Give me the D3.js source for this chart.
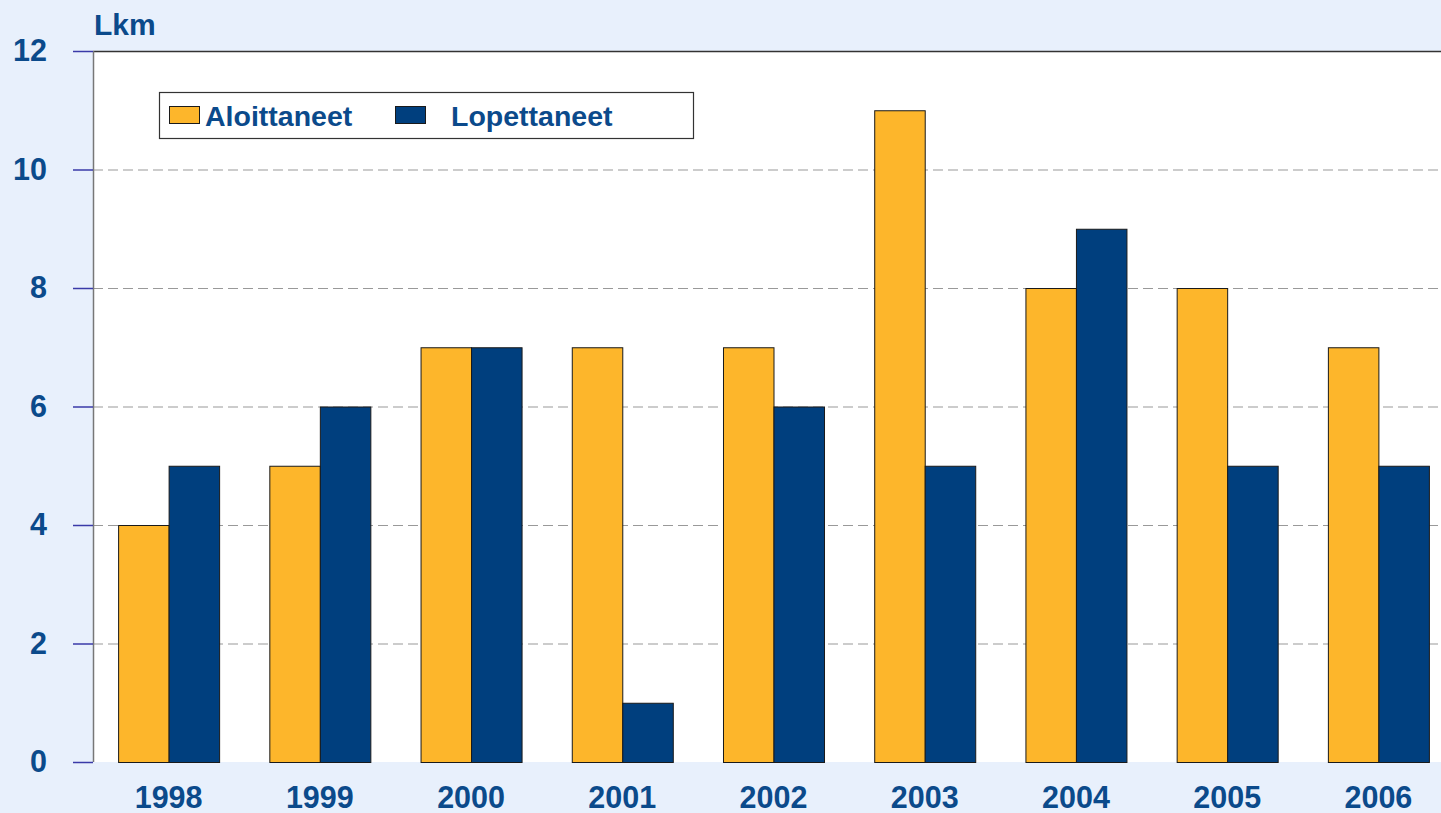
<!DOCTYPE html>
<html>
<head>
<meta charset="utf-8">
<script src="https://cdn.jsdelivr.net/npm/d3@7"></script>
<style>
  html, body { margin: 0; padding: 0; background: #e8f0fc; }
  svg { display: block; font-family: "Liberation Sans", Arial, sans-serif; font-weight: bold; }
</style>
</head>
<body>
<svg id="chart" width="1441" height="813"></svg>
<script>
// data
var years = ["1998", "1999", "2000", "2001", "2002", "2003", "2004", "2005", "2006"];
var aloittaneet = [4, 5, 7, 7, 7, 11, 8, 8, 7];
var lopettaneet = [5, 6, 7, 1, 6, 5, 9, 5, 5];
var seriesNames = ["Aloittaneet", "Lopettaneet"];
var yTicks = [0, 2, 4, 6, 8, 10, 12];

var colors = ["#fdb62b", "#003f7e"];
var textColor = "#0b4a8b";

var svg = d3.select("#chart");
var plotL = 93, plotT = 51, plotB = 762, plotR = 1454;

var x = d3.scaleBand().domain(years).range([plotL, plotR]).paddingInner(0.332).paddingOuter(0.166);
var xs = d3.scaleBand().domain([0, 1]).range([0, x.bandwidth()]);
var y = d3.scaleLinear().domain([0, 12]).range([plotB, plotT]);

// plot area
svg.append("rect")
    .attr("x", plotL).attr("y", plotT)
    .attr("width", plotR - plotL).attr("height", plotB - plotT)
    .attr("fill", "#fff");

// grid
svg.append("g").selectAll("line")
    .data(yTicks.filter(function(d) { return d > 0 && d < 12; }))
    .enter().append("line")
    .attr("x1", plotL).attr("x2", plotR)
    .attr("y1", function(d) { return y(d) + 0.5; })
    .attr("y2", function(d) { return y(d) + 0.5; })
    .attr("stroke", "#999").attr("stroke-dasharray", "10,5");

// top border
svg.append("line")
    .attr("x1", plotL).attr("x2", plotR)
    .attr("y1", y(12) + 0.5).attr("y2", y(12) + 0.5)
    .attr("stroke", "#333").attr("stroke-width", 1.5);

// bars
var table = years.map(function(yr, i) { return { year: yr, values: [aloittaneet[i], lopettaneet[i]] }; });
var groups = svg.append("g").selectAll("g")
    .data(table).enter().append("g")
    .attr("transform", function(d) { return "translate(" + x(d.year) + ",0)"; });
groups.selectAll("rect")
    .data(function(d) { return d.values; })
    .enter().append("rect")
    .attr("x", function(d, i) { return xs(i) + 0.5; })
    .attr("y", function(d) { return y(d) + 0.5; })
    .attr("width", xs.bandwidth())
    .attr("height", function(d) { return plotB - y(d); })
    .attr("fill", function(d, i) { return colors[i]; })
    .attr("stroke", "#1a1a1a").attr("stroke-width", 1);

// left axis line
svg.append("line")
    .attr("x1", plotL + 0.5).attr("x2", plotL + 0.5)
    .attr("y1", plotT).attr("y2", plotB)
    .attr("stroke", "#777").attr("stroke-width", 1.5);

// y axis
var yAxis = svg.append("g")
    .attr("transform", "translate(" + plotL + ",0)")
    .call(d3.axisLeft(y).tickValues(yTicks).tickSize(20).tickPadding(26).tickFormat(d3.format("d")));
yAxis.select(".domain").remove();
yAxis.selectAll(".tick line").attr("stroke", "#3a3aa8").attr("stroke-width", 1.5);
yAxis.selectAll(".tick text")
    .attr("fill", textColor)
    .style("font-family", "'Liberation Sans', Arial, sans-serif")
    .style("font-weight", "bold")
    .style("font-size", "30.5px");

// x axis
var xAxis = svg.append("g")
    .attr("transform", "translate(0," + plotB + ")")
    .call(d3.axisBottom(x).tickSize(0).tickPadding(24));
xAxis.select(".domain").remove();
xAxis.selectAll(".tick text")
    .attr("fill", textColor)
    .style("font-family", "'Liberation Sans', Arial, sans-serif")
    .style("font-weight", "bold")
    .style("font-size", "30.5px");

// unit label
svg.append("text")
    .attr("x", 94).attr("y", 35)
    .attr("fill", textColor)
    .style("font-size", "30px")
    .text("Lkm");

// legend
var legend = svg.append("g");
legend.append("rect")
    .attr("x", 159.5).attr("y", 92.5).attr("width", 534).attr("height", 46)
    .attr("fill", "#fff").attr("stroke", "#333").attr("stroke-width", 1.2);
var legendX = [169, 395];
var items = legend.selectAll("g.item")
    .data(seriesNames).enter().append("g")
    .attr("transform", function(d, i) { return "translate(" + legendX[i] + ",0)"; });
items.append("rect")
    .attr("x", 0.5).attr("y", 106.5).attr("width", 30).attr("height", 17)
    .attr("fill", function(d, i) { return colors[i]; })
    .attr("stroke", "#1a1a1a");
items.append("text")
    .attr("x", function(d, i) { return i === 0 ? 36 : 56; })
    .attr("y", 126)
    .attr("fill", textColor)
    .style("font-size", "28.5px")
    .text(function(d) { return d; });
</script>
</body>
</html>
